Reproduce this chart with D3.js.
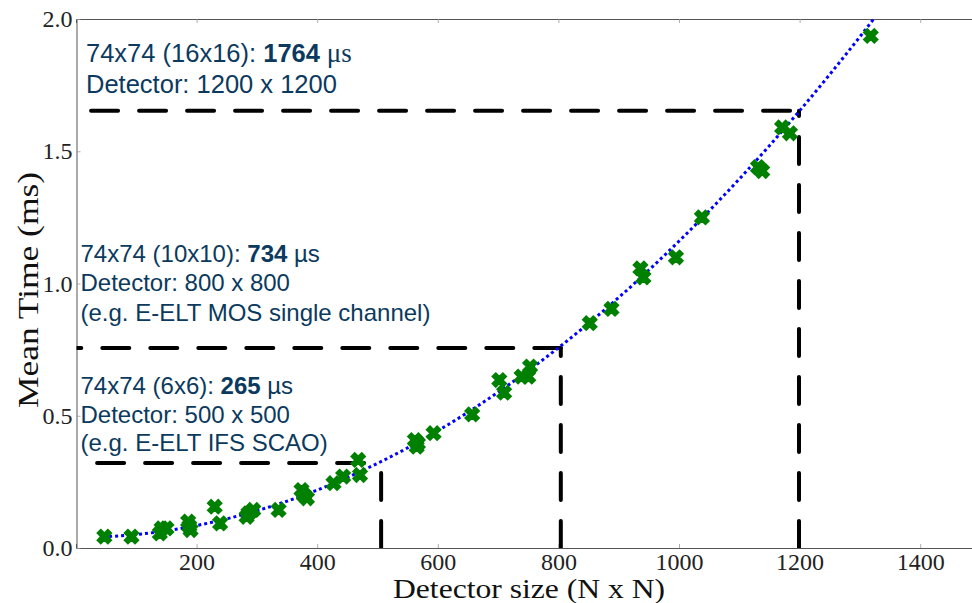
<!DOCTYPE html>
<html>
<head>
<meta charset="utf-8">
<script src="https://cdn.jsdelivr.net/npm/d3@7"></script>
<style>
  body { margin: 0; background: #fff; }
  svg { display: block; }
</style>
</head>
<body>
<svg width="972" height="603"></svg>
<script>
// Measured points (detector size N, mean time in ms)
const detSize = [47, 92, 139, 142, 150, 186, 188, 190, 230, 239, 283, 286, 294, 336,
    374, 378, 383, 427, 443, 468, 471, 562, 565, 567, 593, 657, 702, 710, 739, 750,
    753, 852, 888, 936, 941, 995, 1038, 1131, 1138, 1171, 1184, 1318];
const meanTime = [0.043, 0.043, 0.055, 0.074, 0.074, 0.100, 0.082, 0.068, 0.156, 0.093,
    0.118, 0.131, 0.144, 0.144, 0.219, 0.200, 0.188, 0.245, 0.270, 0.333, 0.276, 0.408,
    0.383, 0.395, 0.434, 0.505, 0.635, 0.587, 0.648, 0.648, 0.686, 0.850, 0.904, 1.057,
    1.023, 1.099, 1.250, 1.440, 1.425, 1.590, 1.568, 1.936];

// Fitted curve
const fitSize = [45, 100, 200, 300, 400, 500, 600, 700, 800, 900, 1000, 1100, 1200, 1300, 1335];
const fitTime = [0.042, 0.051, 0.085, 0.141, 0.219, 0.320, 0.443, 0.589, 0.757, 0.947,
    1.160, 1.395, 1.653, 1.933, 2.036];

// Reference (dashed) lines
const refSize = [506, 804, 1199];
const refTime = [0.321, 0.756, 1.653];
const refStart = [35, -36, 25];

// Ticks
const xTicks = [200, 400, 600, 800, 1000, 1200, 1400];
const yTicks = [0.0, 0.5, 1.0, 1.5, 2.0];

// Annotations: each line is a list of [text, kind]
const noteX = [86, 80.5, 80.5];
const noteY = [62, 262, 394];
const noteStep = [30.5, 29.3, 28.5];
const noteSize = [25.5, 24, 24];
const notes = [
    [[["74x74 (16x16): ", "n"], ["1764", "b"], [" \u03bcs", "s"]], [["Detector: 1200 x 1200", "n"]]],
    [[["74x74 (10x10): ", "n"], ["734", "b"], [" \u00b5s", "n"]], [["Detector: 800 x 800", "n"]],
        [["(e.g. E-ELT MOS single channel)", "n"]]],
    [[["74x74 (6x6): ", "n"], ["265", "b"], [" \u00b5s", "n"]], [["Detector: 500 x 500", "n"]],
        [["(e.g. E-ELT IFS SCAO)", "n"]]]
];

const svg = d3.select("svg");
const x = d3.scaleLinear().domain([0, 1500]).range([76, 980.5]);
const y = d3.scaleLinear().domain([0, 2]).range([548, 19]);

svg.append("defs").append("clipPath").attr("id", "plot")
  .append("rect").attr("x", 76.5).attr("y", 19).attr("width", 904).attr("height", 529);

const serif = "'Liberation Serif', 'Times New Roman', serif";
const sans = "'Liberation Sans', Arial, sans-serif";

// axes
const xAxisG = svg.append("g").attr("transform", "translate(0,548)")
    .call(d3.axisBottom(x).tickValues(xTicks).tickSize(-4).tickPadding(5).tickFormat(d3.format("d")));
const topAxisG = svg.append("g").attr("transform", "translate(0,19)")
    .call(d3.axisTop(x).tickValues(xTicks).tickSize(-4).tickFormat(""));
const yAxisG = svg.append("g").attr("transform", "translate(76.5,0)")
    .call(d3.axisLeft(y).tickValues(yTicks).tickSize(-4).tickPadding(4).tickFormat(d3.format(".1f")));

[xAxisG, topAxisG, yAxisG].forEach(g => {
    g.select(".domain").attr("stroke", "#555").attr("stroke-width", 1);
    g.selectAll(".tick line").attr("stroke", "#999").attr("stroke-width", 0.8);
    g.selectAll("text").attr("font-family", serif).attr("font-size", 24).attr("fill", "#222");
});
xAxisG.selectAll("text").attr("dy", "0.7em");

// dashed reference lines
const plotArea = svg.append("g").attr("clip-path", "url(#plot)");
refSize.forEach((s, i) => {
    plotArea.append("path")
        .attr("d", d3.line()([[x(refStart[i]), y(refTime[i])], [x(s), y(refTime[i])]]))
        .attr("fill", "none").attr("stroke", "#000").attr("stroke-width", 4)
        .attr("stroke-linecap", "round").attr("stroke-dasharray", "27,21");
    plotArea.append("path")
        .attr("d", d3.line()([[x(s), y(0)], [x(s), y(refTime[i])]]))
        .attr("fill", "none").attr("stroke", "#000").attr("stroke-width", 4)
        .attr("stroke-linecap", "round").attr("stroke-dasharray", "27,21");
});

// fitted curve
plotArea.append("path")
    .datum(d3.zip(fitSize, fitTime))
    .attr("d", d3.line().x(d => x(d[0])).y(d => y(d[1])).curve(d3.curveMonotoneX))
    .attr("fill", "none").attr("stroke", "#0000ff").attr("stroke-width", 3)
    .attr("stroke-dasharray", "3,3");

// markers
const marker = d3.symbol(d3.symbolCross).size(125);
svg.append("g").selectAll("path")
    .data(d3.zip(detSize, meanTime))
    .join("path")
    .attr("d", marker)
    .attr("transform", d => `translate(${x(d[0])},${y(d[1])}) rotate(45)`)
    .attr("fill", "#008000").attr("stroke", "#008000").attr("stroke-width", 1.5);

// annotations
notes.forEach((lines, i) => {
    lines.forEach((parts, j) => {
        const t = svg.append("text")
            .attr("x", noteX[i]).attr("y", noteY[i] + j * noteStep[i])
            .attr("font-family", sans).attr("font-size", noteSize[i]).attr("fill", "#0b3a5e")
            .style("white-space", "pre");
        parts.forEach(p => {
            const ts = t.append("tspan").text(p[0]);
            if (p[1] === "b") ts.attr("font-weight", "bold");
            if (p[1] === "s") ts.attr("font-family", serif).attr("font-size", 27);
        });
    });
});

// axis titles
svg.append("text")
    .attr("x", 529).attr("y", 598)
    .attr("text-anchor", "middle")
    .attr("font-family", serif).attr("font-size", 28).attr("fill", "#111")
    .attr("textLength", 272).attr("lengthAdjust", "spacingAndGlyphs")
    .text("Detector size (N x N)");

svg.append("text")
    .attr("transform", "translate(38,290) rotate(-90)")
    .attr("text-anchor", "middle")
    .attr("font-family", serif).attr("font-size", 29).attr("fill", "#111")
    .attr("textLength", 236).attr("lengthAdjust", "spacingAndGlyphs")
    .text("Mean Time (ms)");
</script>
</body>
</html>
